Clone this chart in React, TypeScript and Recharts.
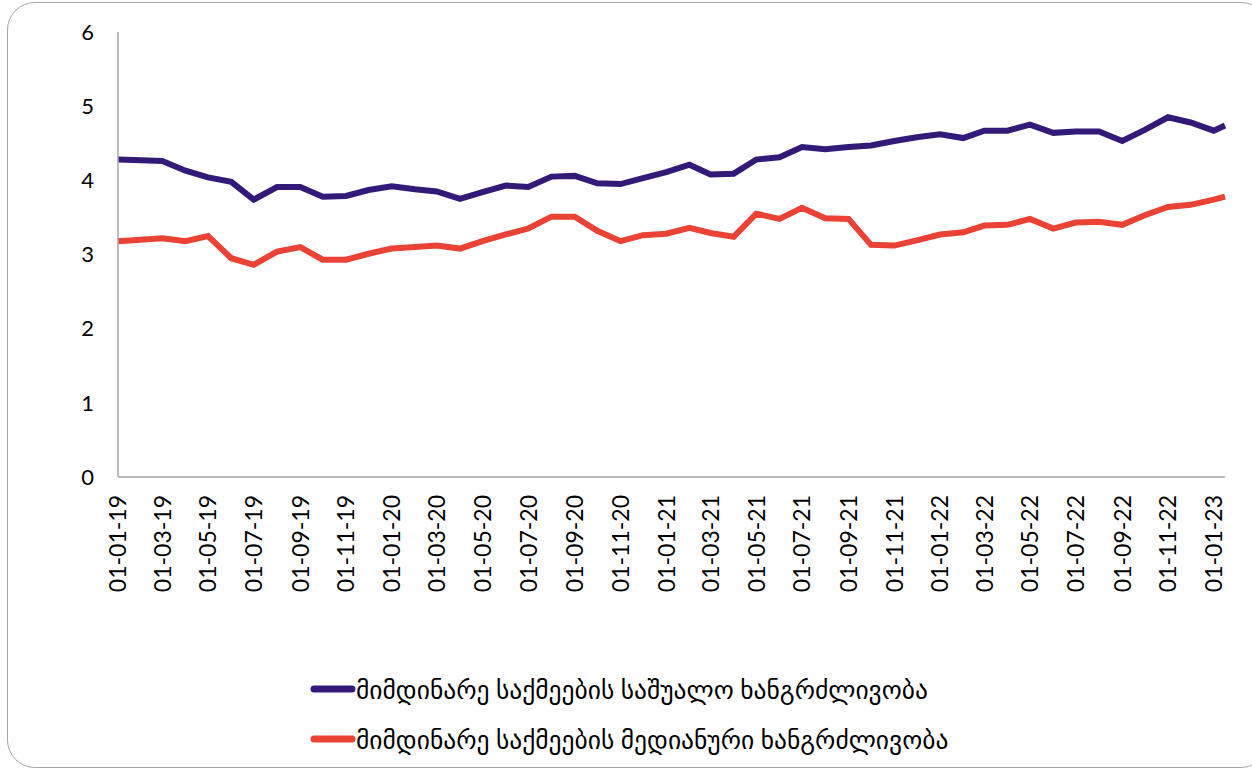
import React from "react";
import { LineChart, Line, XAxis, YAxis, Legend } from "recharts";

// monthly observations (first of month), last one is mid-January 2023
const dates = [
  "2019-01-01", "2019-02-01", "2019-03-01", "2019-04-01", "2019-05-01", "2019-06-01",
  "2019-07-01", "2019-08-01", "2019-09-01", "2019-10-01", "2019-11-01", "2019-12-01",
  "2020-01-01", "2020-02-01", "2020-03-01", "2020-04-01", "2020-05-01", "2020-06-01",
  "2020-07-01", "2020-08-01", "2020-09-01", "2020-10-01", "2020-11-01", "2020-12-01",
  "2021-01-01", "2021-02-01", "2021-03-01", "2021-04-01", "2021-05-01", "2021-06-01",
  "2021-07-01", "2021-08-01", "2021-09-01", "2021-10-01", "2021-11-01", "2021-12-01",
  "2022-01-01", "2022-02-01", "2022-03-01", "2022-04-01", "2022-05-01", "2022-06-01",
  "2022-07-01", "2022-08-01", "2022-09-01", "2022-10-01", "2022-11-01", "2022-12-01",
  "2023-01-01", "2023-01-16",
];

// საშუალო ხანგრძლივობა
const meanDuration = [
  4.28, 4.27, 4.26, 4.13, 4.04, 3.98, 3.74, 3.91, 3.91, 3.78, 3.79, 3.87,
  3.92, 3.88, 3.85, 3.75, 3.84, 3.93, 3.91, 4.05, 4.06, 3.96, 3.95, 4.03,
  4.11, 4.21, 4.08, 4.09, 4.28, 4.31, 4.45, 4.42, 4.45, 4.47, 4.53, 4.58,
  4.62, 4.57, 4.67, 4.67, 4.75, 4.64, 4.66, 4.66, 4.53, 4.68, 4.85, 4.78,
  4.67, 4.74,
];

// მედიანური ხანგრძლივობა
const medianDuration = [
  3.18, 3.2, 3.22, 3.18, 3.25, 2.95, 2.86, 3.04, 3.1, 2.93, 2.93, 3.01,
  3.08, 3.1, 3.12, 3.08, 3.18, 3.27, 3.35, 3.51, 3.51, 3.32, 3.18, 3.26,
  3.28, 3.36, 3.29, 3.24, 3.55, 3.48, 3.63, 3.49, 3.48, 3.13, 3.12, 3.19,
  3.27, 3.3, 3.39, 3.4, 3.48, 3.35, 3.43, 3.44, 3.4, 3.53, 3.64, 3.67,
  3.74, 3.78,
];

const yTicks = [0, 1, 2, 3, 4, 5, 6];

const seriesNames = {
  mean: "მიმდინარე საქმეების საშუალო ხანგრძლივობა",
  median: "მიმდინარე საქმეების მედიანური ხანგრძლივობა",
};

const PURPLE = "#341a78";
const RED = "#ea4336";
const AXIS = "#a6a6a6";

const data = dates.map((d, i) => ({
  t: Date.parse(d + "T00:00:00Z"),
  mean: meanDuration[i],
  median: medianDuration[i],
}));

// label every second month up to 01-01-23
const xTicks = data.filter((_, i) => i % 2 === 0 && i <= 48).map((d) => d.t);

const fmtDate = (t: number) => {
  const d = new Date(t);
  const dd = String(d.getUTCDate()).padStart(2, "0");
  const mm = String(d.getUTCMonth() + 1).padStart(2, "0");
  const yy = String(d.getUTCFullYear()).slice(2);
  return `${dd}-${mm}-${yy}`;
};

const XTick = (props: any) => {
  const { x, y, payload } = props;
  return (
    <text
      transform={`translate(${x},${y}) rotate(-90)`}
      textAnchor="end"
      dy="0.36em"
      fontSize={23}
      fontFamily="Lato, 'DejaVu Sans', sans-serif"
      fill="#000"
    >
      {fmtDate(payload.value)}
    </text>
  );
};

const LegendBox = () => (
  <div style={{ paddingLeft: 310, fontFamily: "Lato, 'DejaVu Sans', sans-serif", fontSize: 25.5, color: "#000" }}>
    {[
      { name: seriesNames.mean, color: PURPLE },
      { name: seriesNames.median, color: RED },
    ].map((item) => (
      <div key={item.name} style={{ display: "flex", alignItems: "center", height: 50 }}>
        <svg width={46} height={10}>
          <line x1={4} y1={5} x2={42} y2={5} stroke={item.color} strokeWidth={7} strokeLinecap="round" />
        </svg>
        <span>{item.name}</span>
      </div>
    ))}
  </div>
);

export default function App() {
  return (
    <div style={{ position: "absolute", left: 0, top: 0, width: 1252, height: 771, overflow: "hidden", background: "#fff" }}>
      <div
        style={{
          position: "absolute",
          left: 7,
          top: 2,
          width: 1262,
          height: 766,
          border: `1.5px solid ${AXIS}`,
          borderRadius: 28,
          boxSizing: "border-box",
        }}
      />
      <LineChart width={1252} height={771} data={data} margin={{ top: 32, right: 27, left: 78, bottom: 64 }}>
        <XAxis
          dataKey="t"
          type="number"
          scale="linear"
          domain={["dataMin", "dataMax"]}
          ticks={xTicks}
          interval={0}
          height={130}
          tickLine={false}
          tickMargin={12}
          axisLine={{ stroke: AXIS, strokeWidth: 1.5 }}
          tick={<XTick />}
        />
        <YAxis
          domain={[0, 6]}
          ticks={yTicks}
          width={40}
          tickLine={false}
          tickMargin={18}
          axisLine={{ stroke: AXIS, strokeWidth: 1.5 }}
          tick={{ fontSize: 22, fill: "#000", fontFamily: "Lato, sans-serif" }}
        />
        <Line
          type="linear"
          dataKey="mean"
          name={seriesNames.mean}
          stroke={PURPLE}
          strokeWidth={6}
          dot={false}
          isAnimationActive={false}
        />
        <Line
          type="linear"
          dataKey="median"
          name={seriesNames.median}
          stroke={RED}
          strokeWidth={6}
          dot={false}
          isAnimationActive={false}
        />
        <Legend layout="vertical" align="center" verticalAlign="bottom" wrapperStyle={{ top: 664, left: 0, width: 1252 }} content={<LegendBox />} />
      </LineChart>
    </div>
  );
}
